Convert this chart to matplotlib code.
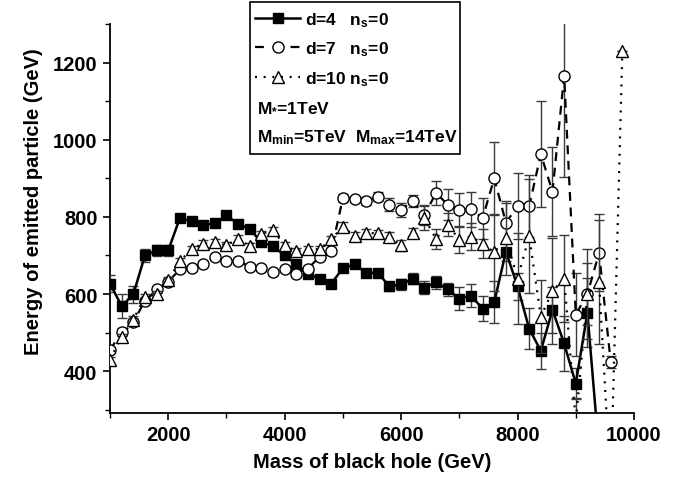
import matplotlib
matplotlib.use("Agg")
import matplotlib.pyplot as plt
from matplotlib.lines import Line2D
from matplotlib.patches import Rectangle
from matplotlib.ticker import MultipleLocator, FixedLocator

plt.rcParams['font.family'] = ['Liberation Sans', 'DejaVu Sans']
plt.rcParams['font.weight'] = 'bold'
plt.rcParams['mathtext.fontset'] = 'custom'
plt.rcParams['mathtext.rm'] = 'Liberation Sans:bold'
plt.rcParams['mathtext.bf'] = 'Liberation Sans:bold'
plt.rcParams['mathtext.it'] = 'Liberation Sans:bold'
plt.rcParams['mathtext.default'] = 'bf'

# ---------------- data ----------------
mass_d4 = [1000, 1200, 1400, 1600, 1800, 2000, 2200, 2400, 2600, 2800,
           3000, 3200, 3400, 3600, 3800, 4000, 4200, 4400, 4600, 4800,
           5000, 5200, 5400, 5600, 5800, 6000, 6200, 6400, 6600, 6800,
           7000, 7200, 7400, 7600, 7800, 8000, 8200, 8400, 8600, 8800,
           9000, 9200, 9400]
energy_d4 = [627, 569, 599, 700, 713, 713, 797, 789, 780, 783,
             804, 782, 769, 734, 724, 700, 678, 652, 640, 627,
             667, 677, 655, 655, 620, 625, 640, 616, 631, 612,
             588, 596, 562, 579, 710, 620, 510, 453, 559, 472,
             368, 552, 190]
err_d4 = [22, 30, 22, 18, 15, 15, 8, 8, 8, 8,
          8, 8, 8, 8, 8, 8, 8, 8, 8, 8,
          8, 8, 10, 10, 12, 14, 14, 17, 17, 16,
          30, 30, 32, 55, 25, 35, 53, 46, 60, 71,
          40, 90, 0]

mass_d7 = [1000, 1200, 1400, 1600, 1800, 2000, 2200, 2400, 2600, 2800,
           3000, 3200, 3400, 3600, 3800, 4000, 4200, 4400, 4600, 4800,
           5000, 5200, 5400, 5600, 5800, 6000, 6200, 6400, 6600, 6800,
           7000, 7200, 7400, 7600, 7800, 8000, 8200, 8400, 8600, 8800,
           9000, 9200, 9400, 9600]
energy_d7 = [455, 501, 528, 582, 612, 632, 664, 668, 678, 696,
             685, 686, 671, 668, 658, 666, 653, 666, 697, 711,
             849, 847, 841, 852, 832, 819, 841, 805, 862, 832,
             818, 820, 797, 900, 785, 828, 828, 963, 865, 1166,
             547, 600, 707, 424]
err_d7 = [8, 10, 8, 8, 8, 8, 8, 8, 8, 8,
          8, 8, 8, 8, 8, 8, 8, 8, 8, 8,
          10, 8, 10, 12, 17, 18, 16, 25, 30, 40,
          45, 45, 53, 94, 52, 86, 80, 138, 115, 262,
          108, 116, 100, 15]

mass_d10 = [1000, 1200, 1400, 1600, 1800, 2000, 2200, 2400, 2600, 2800,
            3000, 3200, 3400, 3600, 3800, 4000, 4200, 4400, 4600, 4800,
            5000, 5200, 5400, 5600, 5800, 6000, 6200, 6400, 6600, 6800,
            7000, 7200, 7400, 7600, 7800, 8000, 8200, 8400, 8600, 8800,
            9000, 9200, 9400, 9600, 9800]
energy_d10 = [430, 489, 534, 592, 599, 636, 685, 716, 731, 734,
              726, 744, 724, 756, 765, 726, 711, 716, 716, 742,
              775, 750, 759, 757, 748, 726, 759, 797, 743, 780,
              741, 749, 731, 708, 745, 640, 750, 541, 608, 640,
              270, 600, 631, 100, 1230]
err_d10 = [8, 8, 8, 8, 8, 8, 8, 8, 8, 8,
           8, 8, 8, 8, 8, 8, 8, 8, 8, 8,
           12, 10, 10, 10, 12, 14, 12, 30, 25, 30,
           35, 35, 37, 100, 95, 117, 147, 95, 138, 112,
           60, 80, 160, 0, 0]

labels = [r'd=4   n$_{s}$=0', r'd=7   n$_{s}$=0', r'd=10 n$_{s}$=0']
note1 = r'M$_{*}$=1TeV'
note2 = r'M$_{min}$=5TeV  M$_{max}$=14TeV'
xticks_major = [2000, 4000, 6000, 8000, 10000]
yticks_major = [400, 600, 800, 1000, 1200]

# ---------------- figure ----------------
W, H = 688, 485
fig = plt.figure(figsize=(W / 100, H / 100), dpi=100)
ax = fig.add_axes([110 / W, (H - 413.5) / H, (634 - 110) / W, (413.5 - 25) / H])

ecol = '#3a3a3a'
common = dict(ecolor=ecol, elinewidth=1.0, capsize=3.6, capthick=1.0)

c4 = ax.errorbar(mass_d4, energy_d4, yerr=err_d4, color='k', lw=1.8,
                 marker='s', ms=7.0, mfc='k', mec='k', zorder=3, **common)
c7 = ax.errorbar(mass_d7, energy_d7, yerr=err_d7, color='k', lw=1.6,
                 marker='o', ms=8.0, mfc='white', mec='k', mew=1.0, zorder=4, **common)
c7[0].set_dashes([4, 3])
c10 = ax.errorbar(mass_d10, energy_d10, yerr=err_d10, color='k', lw=1.6,
                  marker='^', ms=8.4, mfc='white', mec='k', mew=1.0, zorder=5, **common)
c10[0].set_dashes([0.9, 3])

ax.set_xlim(1000, 10000)
ax.set_ylim(293, 1300)
ax.xaxis.set_major_locator(FixedLocator(xticks_major))
ax.xaxis.set_minor_locator(MultipleLocator(1000))
ax.yaxis.set_major_locator(FixedLocator(yticks_major))
ax.yaxis.set_minor_locator(MultipleLocator(100))
for s in ['top', 'right']:
    ax.spines[s].set_visible(False)
for s in ['left', 'bottom']:
    ax.spines[s].set_linewidth(1.3)
ax.tick_params(which='major', direction='out', length=5, width=1.2, labelsize=14.5, pad=4)
ax.tick_params(which='minor', direction='out', length=3.5, width=1.0)
for lab in ax.get_xticklabels() + ax.get_yticklabels():
    lab.set_fontweight('bold')

ax.set_xlabel('Mass of black hole (GeV)', fontsize=14.5, fontweight='bold', labelpad=6)
ax.set_ylabel('Energy of emitted particle (GeV)', fontsize=14.5, fontweight='bold')
ax.yaxis.set_label_coords(-(110 - 43) / (634 - 110), (413.5 - 202) / (413.5 - 25))

# legend
h4 = Line2D([], [], color='k', lw=1.8, marker='s', ms=7.0, mfc='k')
h7 = Line2D([], [], color='k', lw=1.6, marker='o', ms=8.0, mfc='white', dashes=[4, 4])
h10 = Line2D([], [], color='k', lw=1.6, marker='^', ms=8.4, mfc='white', dashes=[0.9, 3])
leg = ax.legend([h4, h7, h10], labels, loc='upper left',
                bbox_to_anchor=(255 / W, 1 - 11 / H), bbox_transform=fig.transFigure,
                frameon=False, handlelength=2.6, handletextpad=0.3,
                labelspacing=0.62, borderpad=0, borderaxespad=0,
                prop={'weight': 'bold', 'size': 12.5})
fig.add_artist(Rectangle((250 / W, 1 - 155 / H), (460 - 250) / W, (155 - 3) / H,
                         transform=fig.transFigure, fill=False, lw=1.2, ec='k'))
fig.text(257 / W, 1 - 108 / H, note1, fontsize=12.5, fontweight='bold', va='center', ha='left')
fig.text(257 / W, 1 - 138 / H, note2, fontsize=12.5, fontweight='bold', va='center', ha='left')

fig.savefig('out.png', dpi=100)
